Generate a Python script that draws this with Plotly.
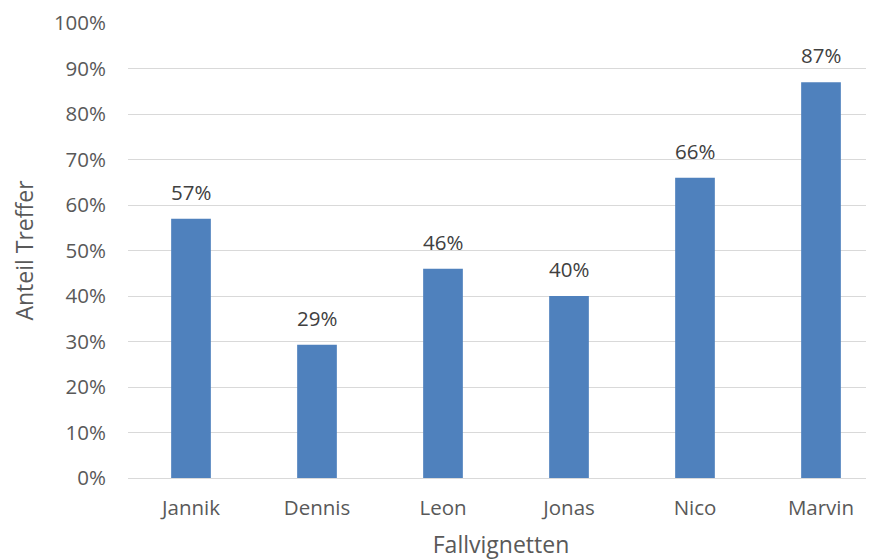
import plotly.graph_objects as go

categories = ["Jannik", "Dennis", "Leon", "Jonas", "Nico", "Marvin"]
values = [0.57, 0.293, 0.46, 0.40, 0.66, 0.87]
labels = ["57%", "29%", "46%", "40%", "66%", "87%"]
y_ticks = [i / 10 for i in range(11)]
y_tick_labels = [f"{i*10}%" for i in range(11)]

FONT = "Open Sans"

fig = go.Figure()
fig.add_trace(go.Bar(
    x=categories, y=values,
    marker=dict(color="#4F81BD", line=dict(width=0)),
    width=0.315,
    hoverinfo="skip",
))

for c, v, t in zip(categories, values, labels):
    fig.add_annotation(x=c, y=v, text=t, showarrow=False, yanchor="bottom",
                       yshift=11, font=dict(family=FONT, size=20.5, color="#404040"))

# page body has an 8px default margin, so the figure is sized to fit the 874x560 window
fig.update_layout(
    width=866, height=552,
    margin=dict(l=120, r=0, t=15, b=82),
    paper_bgcolor="white", plot_bgcolor="white",
    showlegend=False,
    font=dict(family=FONT, size=21, color="#595959"),
    xaxis=dict(
        range=[-0.5, -0.5 + 746 / 126],
        automargin=False,
        showgrid=False, showline=False, zeroline=False, ticks="",
        tickfont=dict(size=20.5, color="#595959"),
        ticklabelstandoff=15,
        title=dict(text="Fallvignetten", font=dict(size=23, color="#595959"), standoff=23),
    ),
    yaxis=dict(
        range=[0, 1.0],
        automargin=False,
        tickvals=y_ticks, ticktext=y_tick_labels,
        showgrid=True, gridcolor="#D9D9D9", gridwidth=1.3,
        zeroline=True, zerolinecolor="#D9D9D9", zerolinewidth=1.3,
        showline=False, ticks="",
        tickfont=dict(size=20.5, color="#595959"),
        ticklabelstandoff=21,
        title=dict(text="Anteil Treffer", font=dict(size=23, color="#595959"), standoff=24),
    ),
)

fig.write_html("out.html")
